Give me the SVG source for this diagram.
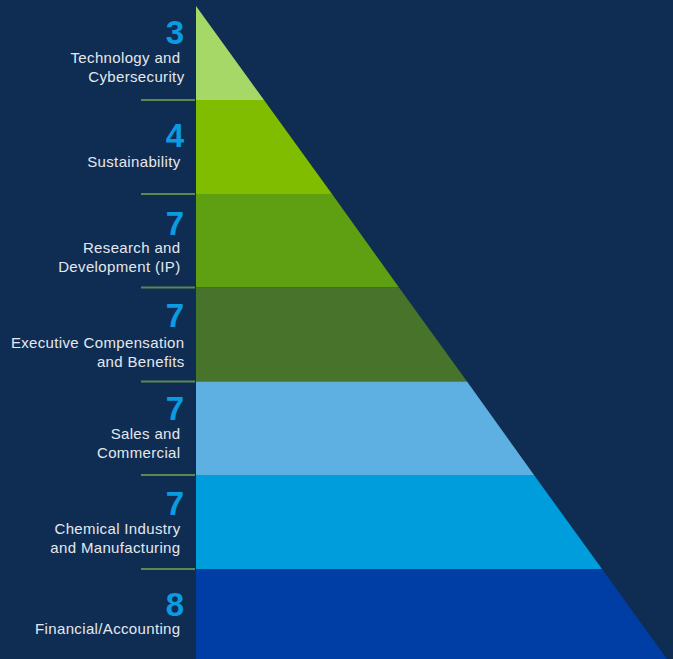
<svg xmlns="http://www.w3.org/2000/svg" width="673" height="659" viewBox="0 0 673 659">
<style>
.num{font-family:"Liberation Sans",Arial,sans-serif;font-weight:bold;font-size:33px;fill:#0a9be0;text-anchor:end}
.lbl{font-family:"Liberation Sans",Arial,sans-serif;font-size:15px;fill:#e4e8ee;text-anchor:end;letter-spacing:0.35px}
.div{stroke:#5b8a50;stroke-width:1.8}
</style>
<rect width="673" height="659" fill="#0f2d52"/>
<g id="pyramid">
<polygon points="196,6 264,100 196,100" fill="#a6d867"/>
<polygon points="196,100 264,100 332,194 196,194" fill="#80bc00"/>
<polygon points="196,194 332,194 399,287.5 196,287.5" fill="#5fa012"/>
<polygon points="196,287.5 399,287.5 467,381.5 196,381.5" fill="#47742a"/>
<polygon points="196,381.5 467,381.5 534,475 196,475" fill="#5eb0e3"/>
<polygon points="196,475 534,475 602,569 196,569" fill="#009ddd"/>
<polygon points="196,569 602,569 667,659 196,659" fill="#003da5"/>
</g>
<g id="dividers">
<line class="div" x1="141" y1="100" x2="195" y2="100"/>
<line class="div" x1="141" y1="194" x2="195" y2="194"/>
<line class="div" x1="141" y1="287.5" x2="195" y2="287.5"/>
<line class="div" x1="141" y1="381.5" x2="195" y2="381.5"/>
<line class="div" x1="141" y1="475" x2="195" y2="475"/>
<line class="div" x1="141" y1="569" x2="195" y2="569"/>
</g>
<g id="tech">
<text class="num" x="184" y="43.5">3</text>
<text class="lbl" x="180.5" y="62.5">Technology and</text>
<text class="lbl" x="184.5" y="81.5">Cybersecurity</text>
</g>
<g id="sustainability">
<text class="num" x="184" y="146.5">4</text>
<text class="lbl" x="180.5" y="166.5">Sustainability</text>
</g>
<g id="research">
<text class="num" x="184" y="235">7</text>
<text class="lbl" x="180.5" y="252.5">Research and</text>
<text class="lbl" x="180.5" y="271.5">Development (IP)</text>
</g>
<g id="executive">
<text class="num" x="184" y="326.5">7</text>
<text class="lbl" x="184.5" y="348">Executive Compensation</text>
<text class="lbl" x="184.5" y="366.5">and Benefits</text>
</g>
<g id="sales">
<text class="num" x="184" y="420">7</text>
<text class="lbl" x="180.5" y="439">Sales and</text>
<text class="lbl" x="180.5" y="457.5">Commercial</text>
</g>
<g id="chemical">
<text class="num" x="184" y="515">7</text>
<text class="lbl" x="180.5" y="534">Chemical Industry</text>
<text class="lbl" x="180.5" y="552.5">and Manufacturing</text>
</g>
<g id="financial">
<text class="num" x="184" y="615.5">8</text>
<text class="lbl" x="180.5" y="634">Financial/Accounting</text>
</g>
</svg>
